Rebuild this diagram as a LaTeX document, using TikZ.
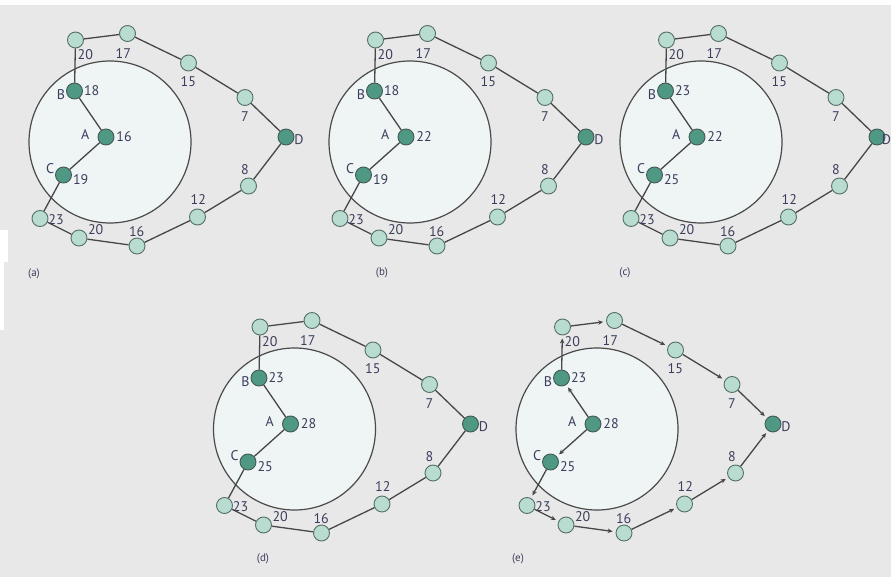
\documentclass[tikz,border=0pt]{standalone}
\usepackage{fontspec}
\setmainfont{PT Sans}
\usetikzlibrary{arrows.meta}
\definecolor{bg}{HTML}{E8E8E8}
\definecolor{ringfill}{HTML}{EFF4F5}
\definecolor{ringcol}{HTML}{4A4A4A}
\definecolor{edgecol}{HTML}{474747}
\definecolor{nodeedge}{HTML}{56706A}
\definecolor{lightfill}{HTML}{B8DCD0}
\definecolor{darkfill}{HTML}{4E9884}
\definecolor{labcol}{HTML}{3C3D5C}
\tikzset{
  lnode/.style={circle, minimum size=16pt, inner sep=0pt, draw=nodeedge, line width=0.9pt, fill=lightfill},
  dnode/.style={lnode, fill=darkfill, draw=nodeedge!80!black},
  plain/.style={draw=edgecol, line width=1.3pt},
  arr/.style={plain, -{Stealth[length=5pt,width=4.5pt]}, shorten >=3pt},
  lab/.style={text=labcol, font=\fontsize{14}{14}\selectfont, inner sep=0pt},
  plab/.style={text=labcol, font=\fontsize{11}{11}\selectfont, inner sep=0pt},
  ring/.style={circle, minimum size=162pt, inner sep=0pt, draw=ringcol, line width=1.2pt, fill=ringfill}
}
\newcommand\drawpanel[8]{%
\begin{scope}[shift={(#1,#2)}]
  \node[ring] (#6ring) at (110,142) {};
  \node[lnode] (#6t1) at (75.5,40) {};
  \node[lnode] (#6t2) at (127.5,33.5) {};
  \node[lnode] (#6t3) at (188.5,63) {};
  \node[lnode] (#6t4) at (245,97.5) {};
  \node[dnode] (#6D) at (286,137) {};
  \node[lnode] (#6b8) at (248.5,186) {};
  \node[lnode] (#6b12) at (197.5,217) {};
  \node[lnode] (#6b16) at (137,246) {};
  \node[lnode] (#6b20) at (79,238) {};
  \node[lnode] (#6b23) at (40,218.5) {};
  \node[dnode] (#6B) at (74.5,91) {};
  \node[dnode] (#6A) at (106,137) {};
  \node[dnode] (#6C) at (63.5,175) {};
  \draw[#7] (#6A) -- (#6B);
  \draw[#7] (#6B) -- (#6t1);
  \draw[#7] (#6t1) -- (#6t2);
  \draw[#7] (#6t2) -- (#6t3);
  \draw[#7] (#6t3) -- (#6t4);
  \draw[#7] (#6t4) -- (#6D);
  \draw[#7] (#6A) -- (#6C);
  \draw[#7] (#6C) -- (#6b23);
  \draw[#7] (#6b23) -- (#6b20);
  \draw[#7] (#6b20) -- (#6b16);
  \draw[#7] (#6b16) -- (#6b12);
  \draw[#7] (#6b12) -- (#6b8);
  \draw[#7] (#6b8) -- (#6D);
  \node[lab] (#6l20t) at (85.3,55) {20};
  \node[lab] (#6l17) at (123.3,53.3) {17};
  \node[lab] (#6l15) at (188.3,81.7) {15};
  \node[lab] (#6l7) at (245,116.7) {7};
  \node[lab] (#6lD) at (#8,139.5) {D};
  \node[lab] (#6l8) at (245,170) {8};
  \node[lab] (#6l12) at (198.3,199.3) {12};
  \node[lab] (#6l16) at (136.7,231.7) {16};
  \node[lab] (#6l20b) at (95.7,229.3) {20};
  \node[lab] (#6l23) at (56,219.3) {23};
  \node[lab] (#6lB) at (61,95) {B};
  \node[lab] (#6lBv) at (91.7,90.7) {#3};
  \node[lab] (#6lA) at (85.3,135) {A};
  \node[lab] (#6lAv) at (124,136.7) {#4};
  \node[lab] (#6lC) at (50,168.3) {C};
  \node[lab] (#6lCv) at (80.7,180) {#5};
\end{scope}}
\begin{document}
\begin{tikzpicture}[x=1pt,y=-1pt]
  \useasboundingbox (0,0) rectangle (891,577);
  \fill[bg] (0,0) rectangle (891,577);
  \fill[white] (0,0) rectangle (891,5);
  \fill[white] (0,230) rectangle (8,262);
  \fill[white] (0,262) rectangle (4,330);
  \drawpanel{0}{0}{18}{16}{19}{a}{plain}{299}
  \drawpanel{300}{0}{18}{22}{19}{b}{plain}{299}
  \drawpanel{591}{0}{23}{22}{25}{c}{plain}{295.5}
  \drawpanel{184.5}{287}{23}{28}{25}{d}{plain}{299}
  \drawpanel{487}{287}{23}{28}{25}{e}{arr}{299}
  \node[plab] (capa) at (34,274) {(a)};
  \node[plab] (capb) at (382,273) {(b)};
  \node[plab] (capc) at (625,273) {(c)};
  \node[plab] (capd) at (263,559) {(d)};
  \node[plab] (cape) at (518,559) {(e)};
\end{tikzpicture}
\end{document}
